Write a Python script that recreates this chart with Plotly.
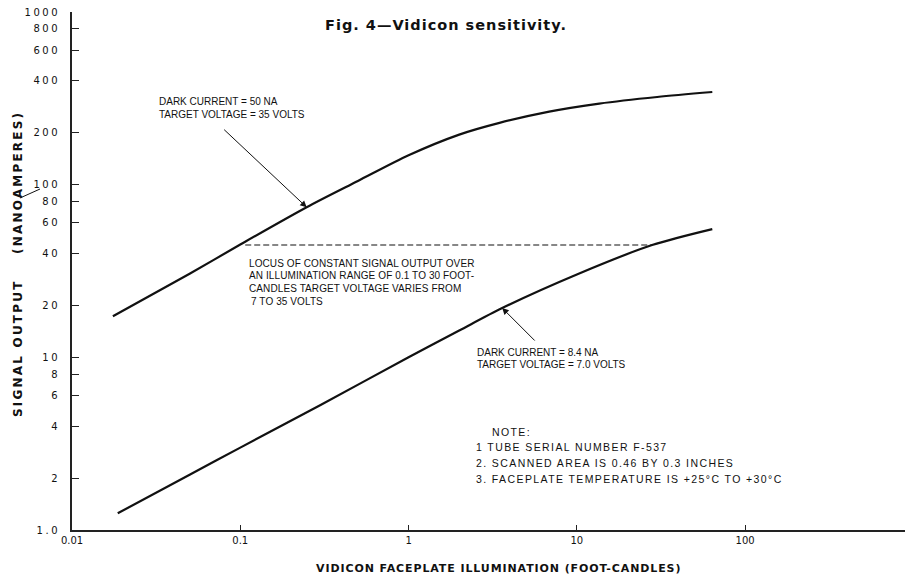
import math
import plotly.graph_objects as go

# ---- data ----
upper_x = [0.0175, 0.05, 0.1, 0.248, 0.5, 1.0, 2.0, 3.47, 6.85, 13.6, 30.0, 63.8]
upper_y = [17.3, 30.5, 45.0, 74.0, 105.0, 148.0, 195.0, 228.0, 265.0, 295.0, 322.0, 344.0]

lower_x = [0.0187, 0.05, 0.1, 0.3, 1.0, 2.0, 3.6, 10.0, 28.0, 63.8]
lower_y = [1.25, 2.09, 3.0, 5.3, 10.0, 14.3, 19.3, 30.2, 44.7, 55.3]

locus_x = [0.107, 28.0]
locus_y = [44.7, 44.7]

x_tickvals = [0.01, 0.1, 1, 10, 100]
x_ticktext = ["0.01", "0.1", "1", "10", "100"]
y_tickvals = [1, 2, 4, 6, 8, 10, 20, 40, 60, 80, 100, 200, 400, 600, 800, 1000]
y_ticktext = ["1.0", "2", "4", "6", "8", "10", "20", "40", "60", "80", "100",
              "200", "400", "600", "800", "1000"]

# ---- layout geometry ----
W, H = 910, 581
ML, MR, MT, MB = 72, 5, 12, 51
PW, PH = W - ML - MR, H - MT - MB


def px(x):
    return (x - ML) / PW


def py(y):
    return (H - MB - y) / PH


def spaced(text, ls):
    return '<span style="letter-spacing:%.1fpx">%s</span>' % (ls, text)


INK = "#111111"
TXT = dict(family="Liberation Sans, Arial, sans-serif", size=10, color=INK)

fig = go.Figure()
fig.add_trace(go.Scatter(x=upper_x, y=upper_y, mode="lines",
                         line=dict(color=INK, width=2.2, shape="spline", smoothing=0.8),
                         hoverinfo="skip", showlegend=False))
fig.add_trace(go.Scatter(x=lower_x, y=lower_y, mode="lines",
                         line=dict(color=INK, width=2.2, shape="spline", smoothing=0.8),
                         hoverinfo="skip", showlegend=False))
fig.add_trace(go.Scatter(x=locus_x, y=locus_y, mode="lines",
                         line=dict(color=INK, width=1.1, dash="6px,3px"),
                         hoverinfo="skip", showlegend=False))

ann = []
# title
ann.append(dict(xref="paper", yref="paper", x=px(446), y=py(25), xanchor="center",
                yanchor="middle", showarrow=False,
                text="<b>" + spaced("Fig. 4—Vidicon sensitivity.", 1.0) + "</b>",
                font=dict(family="DejaVu Sans, sans-serif", size=14.5, color=INK)))
# arrow annotations pointing at the curves
ann.append(dict(x=math.log10(upper_x[3]), y=math.log10(upper_y[3]), xref="x", yref="y",
                text="", showarrow=True, arrowhead=2, arrowsize=1.3, arrowwidth=1,
                arrowcolor=INK, ax=-84, ay=-79, standoff=0))
ann.append(dict(x=math.log10(lower_x[6]), y=math.log10(lower_y[6]), xref="x", yref="y",
                text="", showarrow=True, arrowhead=2, arrowsize=1.3, arrowwidth=1,
                arrowcolor=INK, ax=34, ay=34, standoff=0))


def label(x, y, text, size=10, ls=0.0):
    f = dict(TXT)
    f["size"] = size
    t = spaced(text, ls) if ls else text
    ann.append(dict(xref="paper", yref="paper", x=px(x), y=py(y), xanchor="left",
                    yanchor="middle", showarrow=False, align="left", text=t, font=f))


label(157, 102, "DARK CURRENT = 50 NA")
label(157, 114, "TARGET VOLTAGE = 35 VOLTS")
label(247, 263, "LOCUS OF CONSTANT SIGNAL OUTPUT OVER", ls=0.15)
label(247, 275, "AN ILLUMINATION RANGE OF 0.1 TO 30 FOOT-", ls=0.15)
label(247, 288, "CANDLES TARGET VOLTAGE VARIES FROM", ls=0.15)
label(249, 301, "7 TO 35 VOLTS", ls=0.15)
label(475, 352, "DARK CURRENT = 8.4 NA")
label(475, 364, "TARGET VOLTAGE = 7.0 VOLTS")
label(490, 432, "NOTE:", 10.5, 1.4)
label(474, 447, "1 TUBE SERIAL NUMBER F-537", 10.5, 1.4)
label(474, 463, "2. SCANNED AREA IS 0.46 BY 0.3 INCHES", 10.5, 1.4)
label(474, 479, "3. FACEPLATE TEMPERATURE IS +25°C TO +30°C", 10.5, 1.4)

# axis titles
ann.append(dict(xref="paper", yref="paper", x=px(499), y=py(568), xanchor="center",
                yanchor="middle", showarrow=False,
                text="<b>" + spaced("VIDICON FACEPLATE ILLUMINATION (FOOT-CANDLES)", 0.9) + "</b>",
                font=dict(family="DejaVu Sans, sans-serif", size=11, color=INK)))
ann.append(dict(xref="paper", yref="paper", x=px(18), y=py(264), xanchor="center",
                yanchor="middle", showarrow=False, textangle=-90,
                text="<b>" + spaced("SIGNAL OUTPUT    (NANOAMPERES)", 2.2) + "</b>",
                font=dict(family="DejaVu Sans, sans-serif", size=12, color=INK)))

shapes = [dict(type="line", xref="paper", yref="paper", x0=px(20), y0=py(198),
               x1=px(40), y1=py(189), line=dict(color=INK, width=1))]

fig.update_layout(
    width=W, height=H,
    margin=dict(l=ML, r=MR, t=MT, b=MB),
    paper_bgcolor="white", plot_bgcolor="white",
    annotations=ann, shapes=shapes,
    xaxis=dict(type="log", range=[-2, 2.95], showgrid=False, zeroline=False,
               showline=True, linecolor="#222", linewidth=2,
               ticks="inside", ticklen=5, tickcolor="#222", tickwidth=1.2,
               tickvals=x_tickvals, ticktext=x_ticktext,
               tickfont=dict(family="DejaVu Sans, sans-serif", size=10, color=INK)),
    yaxis=dict(type="log", range=[0, 3], showgrid=False, zeroline=False,
               showline=True, linecolor="#222", linewidth=2,
               ticks="inside", ticklen=7, tickcolor="#222", tickwidth=1.2,
               tickvals=y_tickvals, ticktext=[spaced(t, 2.5) for t in y_ticktext],
               ticklabelstandoff=8,
               tickfont=dict(family="DejaVu Sans, sans-serif", size=10, color=INK)),
)

fig.write_html("out.html")
